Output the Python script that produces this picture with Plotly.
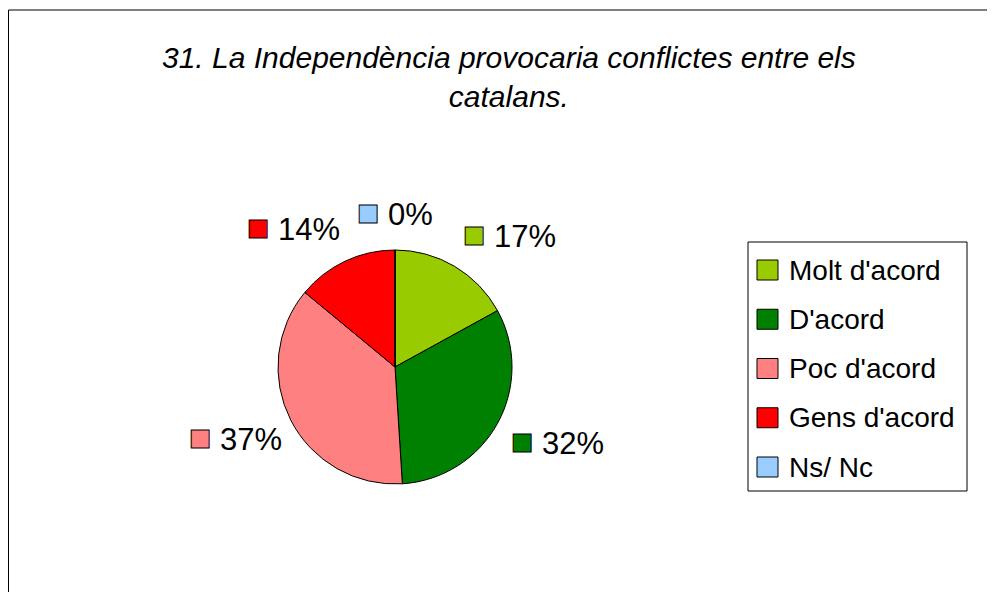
import math
import plotly.graph_objects as go

# dades
labels = ["Molt d'acord", "D'acord", "Poc d'acord", "Gens d'acord", "Ns/ Nc"]
values = [17, 32, 37, 14, 0]
colors = ["#99CC00", "#008000", "#FF8080", "#FF0000", "#99CCFF"]
title = "31. La Independència provocaria conflictes entre els<br>catalans."

W, H = 995, 592
OFF = 8  # marge del body de la pàgina
cx, cy, R = 395, 367, 117  # centre i radi del pastís (px)
FONT = "Liberation Sans, Arial, sans-serif"


def fx(px):
    return (px - OFF) / W


def fy(py):
    return 1 - (py - OFF) / H


fig = go.Figure(go.Pie(
    labels=labels,
    values=values,
    marker=dict(colors=colors, line=dict(color="black", width=1)),
    sort=False,
    direction="clockwise",
    rotation=0,
    textinfo="none",
    hoverinfo="label+percent",
    showlegend=False,
    domain=dict(x=[fx(cx - R), fx(cx + R)], y=[fy(cy + R), fy(cy - R)]),
))

SQ = "<span style='color:{};stroke:#000;stroke-width:1px;font-size:37px'>■</span>"

# etiquetes de percentatge fora del pastís, calculades a partir de les dades
total = sum(values)
annotations = []
cum = 0
for v, col in zip(values, colors):
    mid = (cum + v / 2) / total * 2 * math.pi
    cum += v
    s, c = math.sin(mid), math.cos(mid)
    px = cx + (1.11 if s > 0 else 1.06) * R * s
    py = cy - 1.32 * R * c
    anchor = "left" if s > 0.1 else ("right" if s < -0.1 else "center")
    annotations.append(dict(
        x=fx(px), y=fy(py), xref="paper", yref="paper",
        xanchor=anchor, yanchor="middle", showarrow=False,
        text=SQ.format(col) + f" {round(v / total * 100)}%",
        font=dict(family=FONT, size=31, color="black"),
    ))

# títol
annotations.append(dict(
    x=fx(509), y=fy(77), xref="paper", yref="paper",
    xanchor="center", yanchor="middle", showarrow=False,
    text=f"<i>{title}</i>",
    font=dict(family=FONT, size=30, color="black"),
))

# llegenda
shapes = [
    # marc del gràfic
    dict(type="rect", xref="paper", yref="paper",
         x0=fx(8.5), x1=1.02, y0=-0.02, y1=fy(10),
         line=dict(color="black", width=1)),
    # caixa de la llegenda
    dict(type="rect", xref="paper", yref="paper",
         x0=fx(748), x1=fx(967), y0=fy(491), y1=fy(242),
         line=dict(color="black", width=1), fillcolor="white", layer="below"),
]
for i, (lab, col) in enumerate(zip(labels, colors)):
    yc = 270 + i * 49.25
    shapes.append(dict(
        type="rect", xref="paper", yref="paper",
        x0=fx(757), x1=fx(778), y0=fy(yc + 10), y1=fy(yc - 10),
        line=dict(color="black", width=1), fillcolor=col,
    ))
    annotations.append(dict(
        x=fx(787), y=fy(yc), xref="paper", yref="paper",
        xanchor="left", yanchor="middle", showarrow=False,
        text=lab, font=dict(family=FONT, size=28, color="black"),
    ))

fig.update_layout(
    width=W, height=H,
    margin=dict(l=0, r=0, t=0, b=0),
    paper_bgcolor="white",
    font=dict(family=FONT, color="black"),
    annotations=annotations,
    shapes=shapes,
)

fig.write_html("out.html")
